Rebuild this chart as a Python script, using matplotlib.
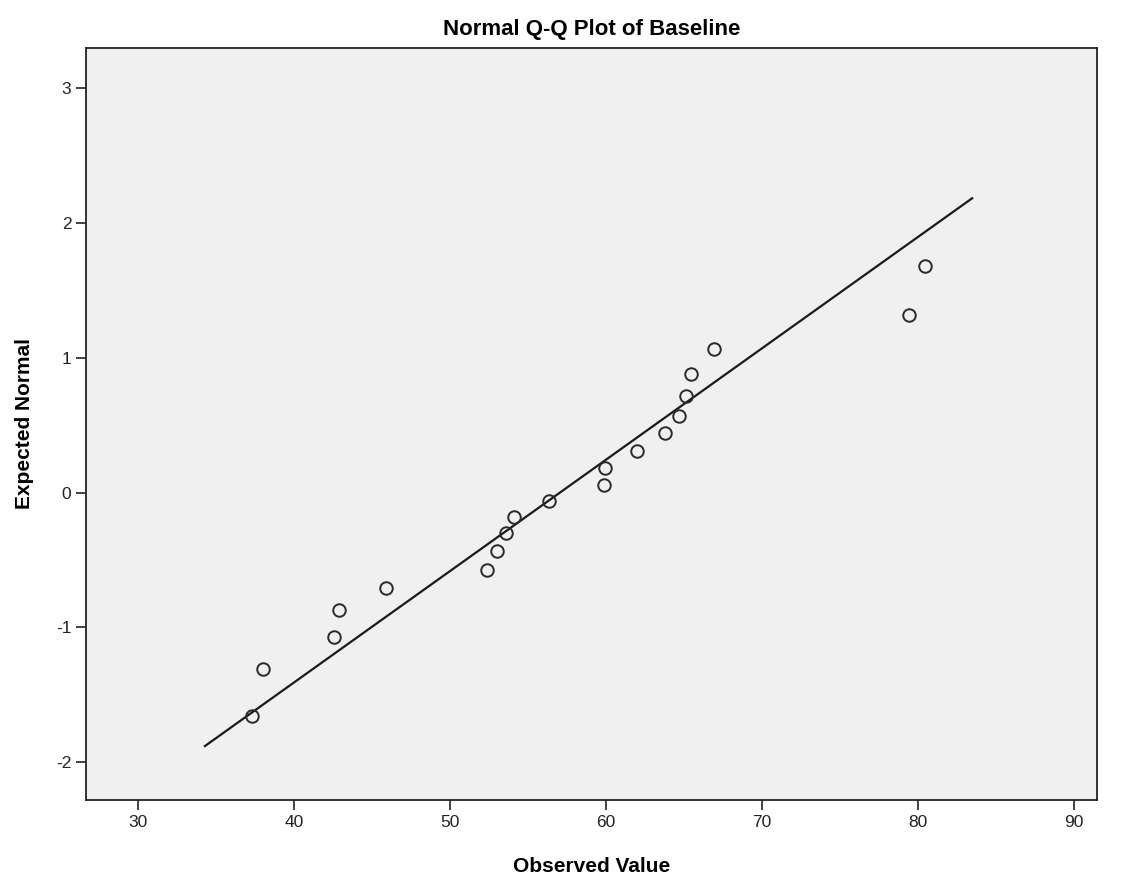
import matplotlib
matplotlib.use('Agg')
import matplotlib.pyplot as plt

plt.rcParams['font.family'] = ['Liberation Sans', 'DejaVu Sans']
plt.rcParams['axes.unicode_minus'] = False

# observed values and expected normal scores
observed = [37.3, 38.0, 42.56, 42.88, 45.9, 52.37, 53.0, 53.6, 54.1, 56.35,
            59.87, 59.94, 61.99, 63.78, 64.68, 65.13, 65.45, 66.92, 79.42, 80.45]
expected = [-1.66, -1.31, -1.07, -0.87, -0.71, -0.57, -0.43, -0.30, -0.18, -0.06,
            0.06, 0.18, 0.31, 0.44, 0.57, 0.72, 0.88, 1.07, 1.32, 1.68]

# reference line end points
line_x = [34.29, 83.46]
line_y = [-1.88, 2.185]

x_ticks = [30, 40, 50, 60, 70, 80, 90]
y_ticks = [-2, -1, 0, 1, 2, 3]

fig = plt.figure(figsize=(11.26, 8.82), dpi=100)
ax = fig.add_axes([0.0764, 0.093, 0.898, 0.8526])
ax.set_facecolor('#f0f0f0')

ax.plot(line_x, line_y, color='#1a1a1a', lw=1.6, zorder=2)
ax.plot(observed, expected, 'o', ms=9, mfc='none', mec='#2a2a2a', mew=1.4, zorder=3)

ax.set_xlim(26.67, 91.47)
ax.set_ylim(-2.28, 3.30)
ax.set_xticks(x_ticks)
ax.set_yticks(y_ticks)
ax.tick_params(axis='both', direction='out', length=7, width=1.2, labelsize=12.5,
               colors='#222222')
for s in ax.spines.values():
    s.set_linewidth(1.3)
    s.set_color('#222222')

ax.set_title('Normal Q-Q Plot of Baseline', fontsize=16, fontweight='bold', pad=9)
ax.set_xlabel('Observed Value', fontsize=15, fontweight='bold', labelpad=20)
ax.set_ylabel('Expected Normal', fontsize=15, fontweight='bold', labelpad=16)

fig.savefig('out.png', dpi=100, facecolor='white')
